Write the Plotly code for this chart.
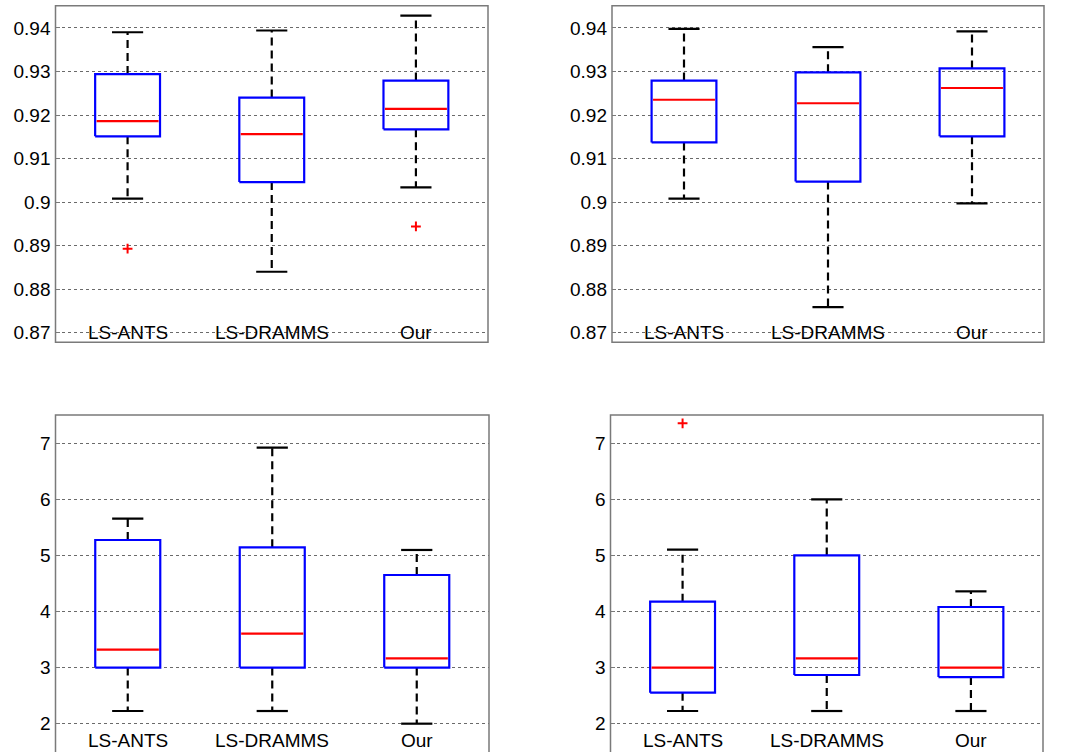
import plotly.graph_objects as go

categories = ["LS-ANTS", "LS-DRAMMS", "Our"]

# Panel A (top-left)
a_lower = [0.9008, 0.8840, 0.9034]
a_q1 = [0.9151, 0.9046, 0.9167]
a_med = [0.9186, 0.9156, 0.9214]
a_q3 = [0.9294, 0.9240, 0.9279]
a_upper = [0.9390, 0.9394, 0.9428]
a_out_cat = [0, 2]
a_out_val = [0.8893, 0.8944]

# Panel B (top-right)
b_lower = [0.9008, 0.8759, 0.8997]
b_q1 = [0.9137, 0.9047, 0.9151]
b_med = [0.9235, 0.9227, 0.9262]
b_q3 = [0.9279, 0.9298, 0.9307]
b_upper = [0.9398, 0.9356, 0.9392]
b_out_cat = []
b_out_val = []

# Panel C (bottom-left)
c_lower = [2.226, 2.226, 2.0]
c_q1 = [3.0, 3.0, 3.0]
c_med = [3.32, 3.605, 3.165]
c_q3 = [5.276, 5.145, 4.652]
c_upper = [5.656, 6.923, 5.098]
c_out_cat = []
c_out_val = []

# Panel D (bottom-right)
d_lower = [2.226, 2.226, 2.226]
d_q1 = [2.553, 2.868, 2.832]
d_med = [3.0, 3.165, 3.0]
d_q3 = [4.176, 5.0, 4.081]
d_upper = [5.103, 6.0, 4.36]
d_out_cat = [0]
d_out_val = [7.357]

top_ticks = [0.87, 0.88, 0.89, 0.90, 0.91, 0.92, 0.93, 0.94]
top_ticktext = ["0.87", "0.88", "0.89", "0.9", "0.91", "0.92", "0.93", "0.94"]
bot_ticks = [2, 3, 4, 5, 6, 7]
bot_ticktext = ["2", "3", "4", "5", "6", "7"]

panels = [
    dict(lo=a_lower, q1=a_q1, med=a_med, q3=a_q3, up=a_upper, oc=a_out_cat, ov=a_out_val,
         xd=[55.5 / 1072, 488 / 1072], yd=[1 - 342.3 / 752, 1 - 5.7 / 752],
         rng=[0.8678, 0.9451], tv=top_ticks, tt=top_ticktext, lab_shift=10),
    dict(lo=b_lower, q1=b_q1, med=b_med, q3=b_q3, up=b_upper, oc=b_out_cat, ov=b_out_val,
         xd=[612 / 1072, 1044 / 1072], yd=[1 - 342.3 / 752, 1 - 5.7 / 752],
         rng=[0.8678, 0.9451], tv=top_ticks, tt=top_ticktext, lab_shift=10),
    dict(lo=c_lower, q1=c_q1, med=c_med, q3=c_q3, up=c_upper, oc=c_out_cat, ov=c_out_val,
         xd=[55.5 / 1072, 489 / 1072], yd=[0.0, 1 - 415 / 752],
         rng=[1.495, 7.505], tv=bot_ticks, tt=bot_ticktext, lab_shift=12),
    dict(lo=d_lower, q1=d_q1, med=d_med, q3=d_q3, up=d_upper, oc=d_out_cat, ov=d_out_val,
         xd=[610.5 / 1072, 1043 / 1072], yd=[0.0, 1 - 415 / 752],
         rng=[1.495, 7.505], tv=bot_ticks, tt=bot_ticktext, lab_shift=12),
]

HALF_BOX = 0.225
HALF_CAP = 0.108
FONT = "Liberation Sans, Arial, sans-serif"

fig = go.Figure()
annotations = []
shapes = []

for i, p in enumerate(panels):
    n = i + 1
    xa = "x" if n == 1 else f"x{n}"
    ya = "y" if n == 1 else f"y{n}"
    for k in range(len(categories)):
        c = k + 1
        # whiskers (dashed)
        fig.add_trace(go.Scatter(x=[c, c], y=[p["q3"][k], p["up"][k]], mode="lines",
                                 line=dict(color="black", width=2.2, dash="8px,5px"),
                                 xaxis=xa, yaxis=ya, showlegend=False, hoverinfo="skip"))
        fig.add_trace(go.Scatter(x=[c, c], y=[p["q1"][k], p["lo"][k]], mode="lines",
                                 line=dict(color="black", width=2.2, dash="8px,5px"),
                                 xaxis=xa, yaxis=ya, showlegend=False, hoverinfo="skip"))
        # caps
        for v in (p["up"][k], p["lo"][k]):
            fig.add_trace(go.Scatter(x=[c - HALF_CAP, c + HALF_CAP], y=[v, v], mode="lines",
                                     line=dict(color="black", width=2.2),
                                     xaxis=xa, yaxis=ya, showlegend=False, hoverinfo="skip"))
        # box
        fig.add_trace(go.Scatter(
            x=[c - HALF_BOX, c + HALF_BOX, c + HALF_BOX, c - HALF_BOX, c - HALF_BOX],
            y=[p["q1"][k], p["q1"][k], p["q3"][k], p["q3"][k], p["q1"][k]],
            mode="lines", line=dict(color="#0000ff", width=2.2),
            xaxis=xa, yaxis=ya, showlegend=False, hoverinfo="skip"))
        # median
        fig.add_trace(go.Scatter(x=[c - HALF_BOX + 0.01, c + HALF_BOX - 0.01],
                                 y=[p["med"][k], p["med"][k]], mode="lines",
                                 line=dict(color="#ff0000", width=2.2),
                                 xaxis=xa, yaxis=ya, showlegend=False, hoverinfo="skip"))
        annotations.append(dict(text=categories[k], x=c, xref=xa, y=0, yref=f"{ya} domain",
                                yanchor="middle", yshift=p["lab_shift"], showarrow=False,
                                font=dict(family=FONT, size=19, color="black")))
    if p["oc"]:
        fig.add_trace(go.Scatter(x=[k + 1 for k in p["oc"]], y=p["ov"], mode="markers",
                                 marker=dict(symbol="cross-thin", size=7,
                                             line=dict(color="#ff0000", width=2)),
                                 xaxis=xa, yaxis=ya, showlegend=False, hoverinfo="skip"))
    axkey = "xaxis" if n == 1 else f"xaxis{n}"
    aykey = "yaxis" if n == 1 else f"yaxis{n}"
    fig.update_layout(**{
        axkey: dict(domain=p["xd"], range=[0.5, 3.5], showgrid=False, zeroline=False,
                    showticklabels=False, ticks="", anchor=ya, fixedrange=True),
        aykey: dict(domain=p["yd"], range=p["rng"], tickvals=p["tv"], ticktext=p["tt"],
                    showgrid=True, gridcolor="#6a6a6a", griddash="dot", gridwidth=1,
                    zeroline=False, ticks="inside", ticklen=4, tickcolor="#7a7a7a",
                    ticklabelstandoff=4,
                    tickfont=dict(family=FONT, size=19, color="black"),
                    anchor=xa, fixedrange=True),
    })
    y1 = p["yd"][1]
    y0 = p["yd"][0] if p["yd"][0] > 0 else -0.05
    shapes.append(dict(type="rect", xref="paper", yref="paper", x0=p["xd"][0], x1=p["xd"][1],
                       y0=y0, y1=y1, line=dict(color="#7a7a7a", width=1.5), layer="above"))

fig.update_layout(width=1072, height=752, margin=dict(l=0, r=0, t=0, b=0),
                  paper_bgcolor="white", plot_bgcolor="white", showlegend=False,
                  annotations=annotations, shapes=shapes)

fig.write_html("out.html", config={"displayModeBar": False},
               post_script="document.body.style.margin='0';document.body.style.overflow='hidden';")
